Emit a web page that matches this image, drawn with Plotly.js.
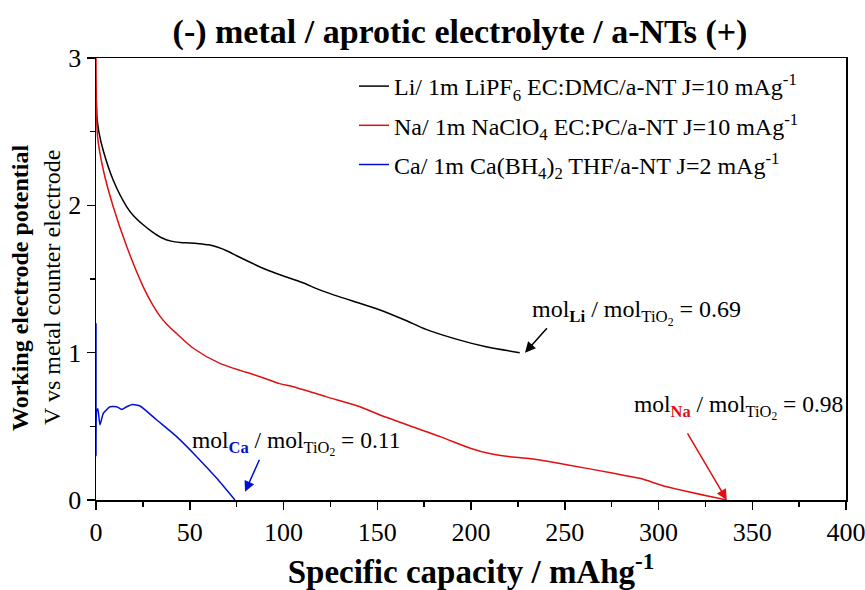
<!DOCTYPE html>
<html>
<head>
<meta charset="utf-8">
<script src="https://cdn.plot.ly/plotly-3.0.1.min.js"></script>
<style>html,body{margin:0;padding:0;background:#fff;}#chart{width:865px;height:590px;}</style>
</head>
<body>
<div id="chart"></div>
<script>
// Li curve
const liX = [0, 0.5, 1.5, 3.9, 9.2, 16.4, 20, 25, 30, 35, 40, 45, 50, 55, 60, 65, 70, 75, 80, 90, 100, 110, 121, 141, 151.5, 165, 176, 194, 208, 226];
const liY = [2.78, 2.6, 2.5, 2.37, 2.17, 1.99, 1.93, 1.87, 1.82, 1.78, 1.757, 1.748, 1.745, 1.74, 1.732, 1.715, 1.69, 1.658, 1.627, 1.568, 1.52, 1.476, 1.418, 1.334, 1.29, 1.22, 1.158, 1.085, 1.04, 1.0];
// Na curve
const naX = [0, 0.2, 0.8, 3.9, 9.2, 16.4, 25.2, 30, 34, 38, 43, 51.9, 66.1, 87.5, 98, 105.2, 123, 140.8, 151.5, 183.5, 200, 210, 220, 232, 251, 276, 290, 304.4, 336.4];
const naY = [3.0, 2.7, 2.47, 2.24, 1.99, 1.72, 1.447, 1.33, 1.25, 1.19, 1.13, 1.03, 0.927, 0.837, 0.79, 0.769, 0.70, 0.633, 0.577, 0.43, 0.35, 0.315, 0.295, 0.28, 0.24, 0.181, 0.147, 0.09, 0.0];
// Ca curve
const caX = [0, 0, 0.3, 1.0, 2.1, 3.9, 7.5, 11, 13.7, 16.4, 19.5, 23.5, 32.4, 43, 53.7, 64.4, 74.1];
const caY = [1.2, 0.3, 0.6, 0.62, 0.51, 0.588, 0.633, 0.633, 0.615, 0.633, 0.648, 0.638, 0.543, 0.43, 0.294, 0.147, 0.0];

const names = [
  'Li/ 1m LiPF<sub>6</sub> EC:DMC/a-NT J=10 mAg<sup>-1</sup>',
  'Na/ 1m NaClO<sub>4</sub> EC:PC/a-NT J=10 mAg<sup>-1</sup>',
  'Ca/ 1m Ca(BH<sub>4</sub>)<sub>2</sub> THF/a-NT J=2 mAg<sup>-1</sup>'
];
const colors = ['#000000', '#e01010', '#0010d0'];

const xTicks = [0, 50, 100, 150, 200, 250, 300, 350, 400];
const yTicks = [0, 1, 2, 3];

const font = 'Liberation Serif';

const traces = [
  {x: liX, y: liY, name: names[0], legendgroup: 'a', line: {color: colors[0], width: 1.5, shape: 'spline', smoothing: 0.7}},
  {x: naX, y: naY, name: names[1], legendgroup: 'b', line: {color: colors[1], width: 1.5, shape: 'spline', smoothing: 0.7}},
  {x: caX, y: caY, name: names[2], legendgroup: 'c', line: {color: colors[2], width: 1.5, shape: 'spline', smoothing: 0.5}}
].map(t => Object.assign({type: 'scatter', mode: 'lines'}, t));

const arrowBase = {showarrow: true, arrowhead: 2, arrowsize: 1.4, arrowwidth: 1.5, axref: 'x', ayref: 'y', xref: 'x', yref: 'y', text: ''};

const layout = {
  width: 865, height: 590,
  margin: {l: 96, r: 19, t: 58, b: 90},
  paper_bgcolor: '#fff', plot_bgcolor: '#fff',
  font: {family: font, color: '#000'},
  title: {text: '<b>(-) metal / aprotic electrolyte / a-NTs (+)</b>', font: {size: 34, family: font}, x: 460/865, xref: 'container', xanchor: 'center', y: 1 - 31/590, yref: 'container', yanchor: 'middle'},
  xaxis: {
    range: [0, 400], tickvals: xTicks, ticktext: xTicks.map(String),
    ticks: 'outside', ticklen: 8, tickwidth: 1.5, tickcolor: '#000', ticklabeloverflow: 'allow',
    minor: {dtick: 25, tick0: 0, ticks: 'outside', ticklen: 5, tickwidth: 1.5, tickcolor: '#000'},
    showline: true, linecolor: '#000', linewidth: 1.5, mirror: true,
    showgrid: false, zeroline: false,
    tickfont: {size: 26, family: font},
    title: {text: '<b>Specific capacity / mAhg<sup>-1</sup></b>', font: {size: 33, family: font}, standoff: 15}
  },
  yaxis: {
    range: [0, 3], tickvals: yTicks, ticktext: yTicks.map(String),
    ticks: 'outside', ticklen: 8, tickwidth: 1.5, tickcolor: '#000', ticklabeloverflow: 'allow',
    minor: {dtick: 0.5, tick0: 0, ticks: 'outside', ticklen: 5, tickwidth: 1.5, tickcolor: '#000'},
    showline: true, linecolor: '#000', linewidth: 1.5, mirror: true,
    showgrid: false, zeroline: false,
    tickfont: {size: 26, family: font}
  },
  legend: {x: (354-96)/750, y: (500-64)/442, xanchor: 'left', yanchor: 'top', bgcolor: 'rgba(0,0,0,0)', font: {size: 24, family: font}, tracegroupgap: 5, itemwidth: 30},
  showlegend: true,
  annotations: [
    {xref: 'paper', yref: 'paper', x: 0, y: (500-288)/442, xshift: -76, xanchor: 'center', yanchor: 'middle', textangle: -90, showarrow: false,
     font: {size: 24, family: font}, text: '<b>Working electrode potential</b>'},
    {xref: 'paper', yref: 'paper', x: 0, y: (500-288)/442, xshift: -44, xanchor: 'center', yanchor: 'middle', textangle: -90, showarrow: false,
     font: {size: 24, family: font}, text: 'V vs metal counter electrode'},
    Object.assign({}, arrowBase, {x: 228.8, y: 1.0, ax: 241.2, ay: 1.176, arrowcolor: colors[0]}),
    Object.assign({}, arrowBase, {x: 336.4, y: 0.0, ax: 315, ay: 0.463, arrowcolor: colors[1]}),
    Object.assign({}, arrowBase, {x: 79.5, y: 0.056, ax: 87.5, ay: 0.283, arrowcolor: colors[2]}),
    {xref: 'x', yref: 'y', x: 231.5, y: 1.275, xanchor: 'left', yanchor: 'middle', showarrow: false, font: {size: 24, family: font},
     text: 'mol<sub><b>Li</b></sub> / mol<sub>TiO<sub>2</sub></sub> = 0.69'},
    {xref: 'x', yref: 'y', x: 285.9, y: 0.635, xanchor: 'left', yanchor: 'middle', showarrow: false, font: {size: 23.5, family: font},
     text: 'mol<sub><b><span style="color:#e01010">Na</span></b></sub> / mol<sub>TiO<sub>2</sub></sub> = 0.98'},
    {xref: 'x', yref: 'y', x: 50.1, y: 0.39, xanchor: 'left', yanchor: 'middle', showarrow: false, font: {size: 23.5, family: font},
     text: 'mol<sub><b><span style="color:#0010d0">Ca</span></b></sub> / mol<sub>TiO<sub>2</sub></sub> = 0.11'}
  ]
};

Plotly.newPlot('chart', traces, layout, {displayModeBar: false, staticPlot: true});
</script>
</body>
</html>
